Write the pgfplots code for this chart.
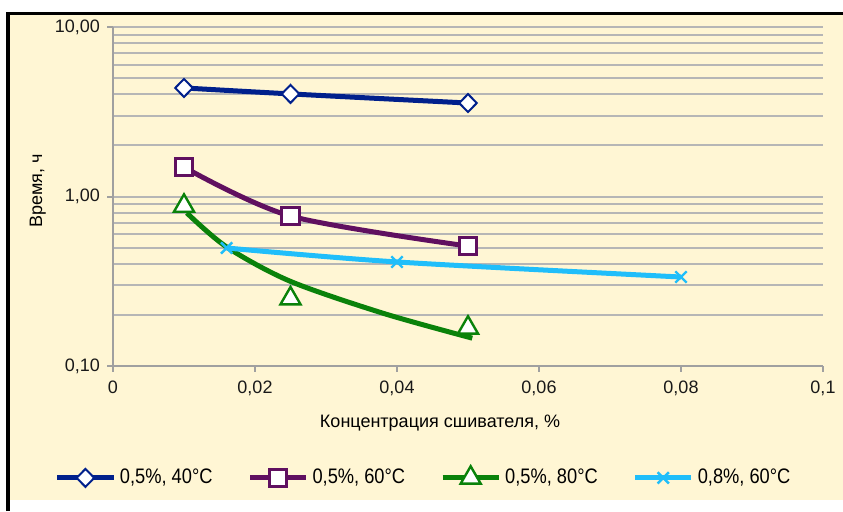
\documentclass[border=0pt]{standalone}
\usepackage{fontspec}
\setmainfont{Liberation Sans}
\newfontfamily\legfont{Liberation Sans}[FakeStretch=0.87]
\usepackage{pgfplots}
\pgfplotsset{compat=1.18}
\definecolor{bgy}{RGB}{255,246,212}
\definecolor{gridg}{RGB}{182,182,182}
\definecolor{axg}{RGB}{160,160,160}
\definecolor{cnavy}{RGB}{0,32,140}
\definecolor{cpurp}{RGB}{96,16,96}
\definecolor{cgreen}{RGB}{10,130,10}
\definecolor{clblue}{RGB}{32,190,250}
\pgfplotsset{
  myleg/.style={legend image code/.code={\draw[mark repeat=2,mark phase=2,##1] plot coordinates {(0pt,0pt) (14pt,0pt) (28pt,0pt)};}},
  greenleg/.style={legend image code/.code={\draw[cgreen,line width=2.5pt] (0pt,0pt)--(28pt,0pt);
    \draw[mark repeat=2,mark phase=2,##1] plot coordinates {(0pt,0pt) (14pt,0pt) (28pt,0pt)};}},
}
\begin{document}
\begin{tikzpicture}
\useasboundingbox (0,0) rectangle (421.5pt,-255.5pt);
\fill[bgy] (5pt,-7.5pt) rectangle (421.5pt,-250pt);
\draw[black,line width=1.5pt] (4pt,-255.5pt) -- (4pt,-6.5pt) -- (421.5pt,-6.5pt);
\begin{axis}[
  at={(56.5pt,-183pt)}, anchor=south west,
  scale only axis, width=355pt, height=169.5pt,
  ymode=log, xmin=0, xmax=0.1, ymin=0.1, ymax=10,
  axis x line=bottom, axis y line=left,
  axis line style={axg, line width=1pt, -},
  ymajorgrids, yminorgrids,
  major grid style={gridg, line width=1pt},
  minor grid style={gridg, line width=1pt},
  xtick={0,0.02,0.04,0.06,0.08,0.1},
  xticklabels={0,{0,02},{0,04},{0,06},{0,08},{0,1}},
  ytick={0.1,1,10},
  yticklabels={{0,10},{1,00},{10,00}},
  tick align=outside, major tick length=3pt, minor tick length=0pt,
  tick style={axg, line width=1pt},
  tick label style={font=\fontsize{9}{10}\selectfont, text=black!90},
  xticklabel style={yshift=-1pt},
  xlabel={Концентрация сшивателя, \%},
  ylabel={Время, ч},
  xlabel style={at={(axis description cs:0.4606,-0.168)}, anchor=center, font=\fontsize{9}{10}\selectfont},
  ylabel style={at={(axis description cs:-0.106,0.516)}, anchor=center, font=\fontsize{9}{10}\selectfont},
  legend columns=4,
  legend style={at={(axis description cs:0.439,-0.330)}, anchor=center, draw=none, fill=none,
    font=\legfont\fontsize{10.5}{12}\selectfont,
    /tikz/every even column/.append style={column sep=15.5pt}},
  myleg,
]
\addplot[cnavy, line width=2.5pt, smooth, mark=diamond*, mark size=4.5pt,
  mark options={solid, fill=white, draw=cnavy, line width=1pt, xscale=1.3}]
  coordinates {(0.01,4.37) (0.025,4.03) (0.05,3.56)};
\addlegendentry{0,5\%, 40°C}
\addplot[cpurp, line width=2.5pt, smooth, mark=square*, mark size=4.3pt,
  mark options={solid, fill=white, draw=cpurp, line width=1.5pt}]
  coordinates {(0.01,1.49) (0.025,0.767) (0.05,0.51)};
\addlegendentry{0,5\%, 60°C}
\addplot[cgreen, line width=2.5pt, smooth, forget plot]
  coordinates {(0.0104,0.80) (0.016,0.504) (0.0249,0.317) (0.038,0.205) (0.0506,0.146)};
\addplot[only marks, mark=triangle*, mark size=5.8pt,
  mark options={solid, fill=white, draw=cgreen, line width=1.2pt}, greenleg]
  coordinates {(0.01,0.88) (0.025,0.25) (0.05,0.168)};
\addlegendentry{0,5\%, 80°C}
\addplot[clblue, line width=2.5pt, smooth, mark=x, mark size=4pt,
  mark options={solid, draw=clblue, line width=1.2pt}]
  coordinates {(0.016,0.497) (0.04,0.411) (0.08,0.335)};
\addlegendentry{0,8\%, 60°C}
\end{axis}
\end{tikzpicture}
\end{document}
